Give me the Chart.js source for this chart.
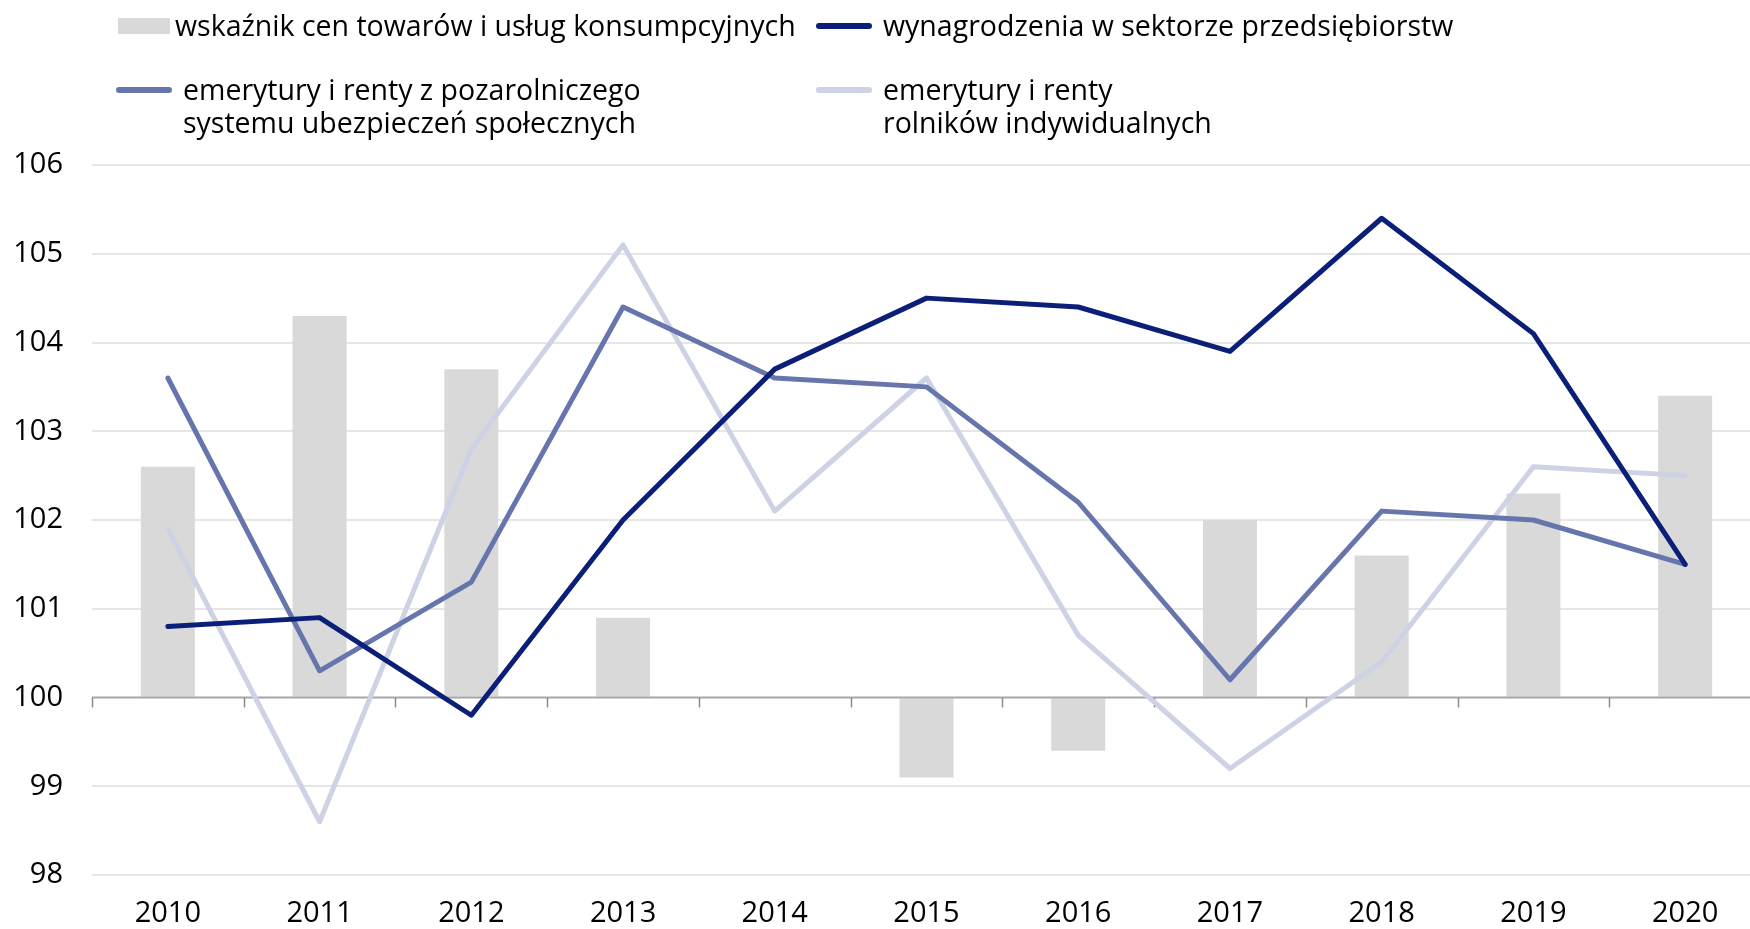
<!DOCTYPE html>
<html>
<head>
<meta charset="utf-8">
<script src="https://cdn.jsdelivr.net/npm/chart.js@4.4.1/dist/chart.umd.min.js"></script>
<style>
  html, body { margin: 0; padding: 0; background: #fff; overflow: hidden; width: 1750px; height: 929px; }
  #wrap { position: absolute; left: 0; top: 0; width: 1762px; height: 929px; }
  #legend { position: absolute; left: 0; top: 0; width: 1750px; height: 150px; font-family: "Open Sans", "Noto Sans", sans-serif; font-size: 28.5px; color: #000; }
  .item { position: absolute; line-height: 33px; white-space: nowrap; }
  .box { position: absolute; }
</style>
</head>
<body>
<div id="wrap"><canvas id="c" width="1762" height="929"></canvas></div>
<div id="legend"></div>
<script>
const categories = ['2010','2011','2012','2013','2014','2015','2016','2017','2018','2019','2020'];
const cpi        = [102.6, 104.3, 103.7, 100.9, 100.0, 99.1, 99.4, 102.0, 101.6, 102.3, 103.4];
const wages      = [100.8, 100.9, 99.8, 102.0, 103.7, 104.5, 104.4, 103.9, 105.4, 104.1, 101.5];
const pensionsNonAgri = [103.6, 100.3, 101.3, 104.4, 103.6, 103.5, 102.2, 100.2, 102.1, 102.0, 101.5];
const pensionsFarmers = [101.9, 98.6, 102.8, 105.1, 102.1, 103.6, 100.7, 99.2, 100.4, 102.6, 102.5];
const yTicks = [98, 99, 100, 101, 102, 103, 104, 105, 106];

const labels = {
  cpi: 'wskaźnik cen towarów i usług konsumpcyjnych',
  wages: 'wynagrodzenia w sektorze przedsiębiorstw',
  nonAgri: 'emerytury i renty z pozarolniczego<br>systemu ubezpieczeń społecznych',
  farmers: 'emerytury i renty<br>rolników indywidualnych'
};
const colors = { cpi: '#d9d9d9', wages: '#0b1f78', nonAgri: '#6676ad', farmers: '#cdd2e4' };

// HTML legend
const legend = document.getElementById('legend');
function addItem(x, y, markerType, color, text, textX) {
  const m = document.createElement('div');
  m.className = 'box';
  if (markerType === 'box') {
    m.style.cssText = `left:${x}px;top:${y-8}px;width:52px;height:16px;background:${color};`;
  } else {
    m.style.cssText = `left:${x}px;top:${y-3}px;width:56px;height:6px;border-radius:3px;background:${color};`;
  }
  legend.appendChild(m);
  const t = document.createElement('div');
  t.className = 'item';
  t.style.left = textX + 'px';
  t.style.top = (y - 17) + 'px';
  t.innerHTML = text;
  legend.appendChild(t);
}
addItem(118, 26, 'box', colors.cpi, labels.cpi, 175);
addItem(816, 26, 'line', colors.wages, labels.wages, 883);
addItem(116, 90, 'line', colors.nonAgri, labels.nonAgri, 183);
addItem(816, 90, 'line', colors.farmers, labels.farmers, 883);

const baselinePlugin = {
  id: 'baseline',
  afterDatasetDraw(chart, args) {
    if (chart.data.datasets[args.index].type !== 'bar') return;
    const ctx = chart.ctx;
    const y = chart.scales.y.getPixelForValue(100);
    const xs = chart.scales.x;
    const area = chart.chartArea;
    const step = xs.getPixelForValue(1) - xs.getPixelForValue(0);
    ctx.save();
    ctx.strokeStyle = '#a6a6a6';
    ctx.lineWidth = 2;
    ctx.beginPath();
    ctx.moveTo(area.left, y);
    ctx.lineTo(area.right, y);
    ctx.stroke();
    ctx.lineWidth = 1.5;
    ctx.strokeStyle = '#8c8c8c';
    const n = categories.length;
    for (let i = 0; i <= n; i++) {
      const px = xs.getPixelForValue(0) - step / 2 + i * step;
      const rx = Math.round(px) + 0.5;
      ctx.beginPath();
      ctx.moveTo(rx, y);
      ctx.lineTo(rx, y + 10);
      ctx.stroke();
    }
    ctx.restore();
  }
};

const tickFont = { family: '"Open Sans", "Noto Sans", sans-serif', size: 29 };

new Chart(document.getElementById('c'), {
  data: {
    labels: categories,
    datasets: [
      { type: 'line', label: 'wages', data: wages, borderColor: colors.wages, borderWidth: 5, pointRadius: 0, tension: 0, borderCapStyle: 'round', borderJoinStyle: 'round', order: 1 },
      { type: 'line', label: 'nonAgri', data: pensionsNonAgri, borderColor: colors.nonAgri, borderWidth: 5, pointRadius: 0, tension: 0, borderCapStyle: 'round', borderJoinStyle: 'round', order: 2 },
      { type: 'line', label: 'farmers', data: pensionsFarmers, borderColor: colors.farmers, borderWidth: 5, pointRadius: 0, tension: 0, borderCapStyle: 'round', borderJoinStyle: 'round', order: 3 },
      { type: 'bar', label: 'cpi', data: cpi, base: 100, backgroundColor: colors.cpi, borderWidth: 0, barPercentage: 0.356, categoryPercentage: 1, order: 10 }
    ]
  },
  options: {
    responsive: false,
    animation: false,
    events: [],
    layout: { padding: { left: 0, right: 1, top: 165, bottom: 0 } },
    plugins: { legend: { display: false }, tooltip: { enabled: false } },
    scales: {
      x: {
        offset: true,
        grid: { display: false, drawTicks: false },
        border: { display: false },
        ticks: { color: '#000', font: tickFont, padding: 21, maxRotation: 0 },
        afterFit(s) { s.height = 54; }
      },
      y: {
        min: 98, max: 106,
        afterBuildTicks(s) { s.ticks = yTicks.map(v => ({ value: v })); },
        grid: { color: ctx => (ctx.tick && ctx.tick.value === 100) ? 'rgba(0,0,0,0)' : '#e6e6e6', lineWidth: 2, drawTicks: false },
        border: { display: false },
        ticks: { color: '#000', font: tickFont, padding: 29 },
        afterFit(s) { s.width = 92; }
      }
    }
  },
  plugins: [baselinePlugin]
});
</script>
</body>
</html>
